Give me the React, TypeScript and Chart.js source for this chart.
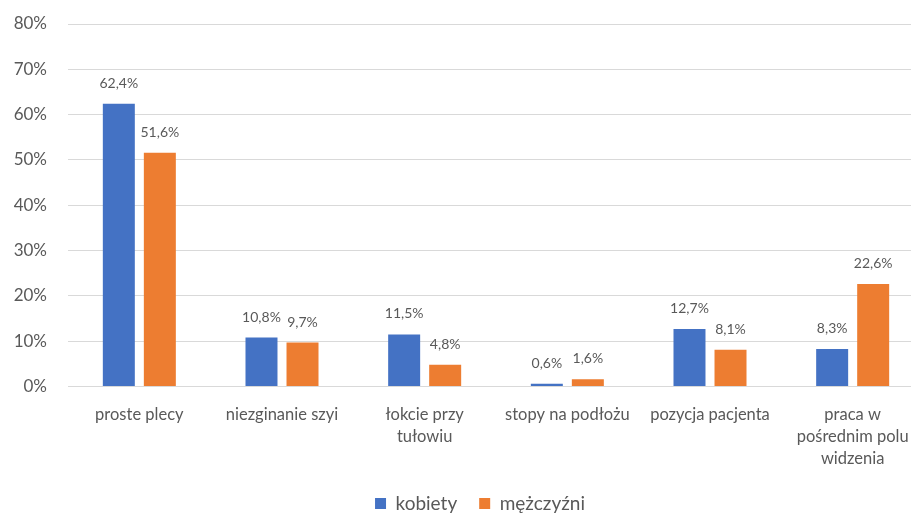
import React, { useEffect, useRef } from "react";
import { Chart, registerables } from "chart.js";

Chart.register(...registerables);

const categories: (string | string[])[] = [
  "proste plecy",
  "niezginanie szyi",
  ["łokcie przy", "tułowiu"],
  "stopy na podłożu",
  "pozycja pacjenta",
  ["praca w", "pośrednim polu", "widzenia"],
];
const kobiety = [62.4, 10.8, 11.5, 0.6, 12.7, 8.3];
const mezczyzni = [51.6, 9.7, 4.8, 1.6, 8.1, 22.6];
const seriesNames = ["kobiety", "mężczyźni"];
const yTicksMax = 80;
const yTickStep = 10;

const FONT = "Lato, 'Open Sans', sans-serif";
const TEXT = "#595959";

const dataLabels = {
  id: "dataLabels",
  afterDatasetsDraw(chart: any) {
    const ctx = chart.ctx;
    ctx.save();
    ctx.font = `14px ${FONT}`;
    ctx.fillStyle = TEXT;
    ctx.textAlign = "center";
    ctx.textBaseline = "alphabetic";
    chart.data.datasets.forEach((ds: any, i: number) => {
      const meta = chart.getDatasetMeta(i);
      meta.data.forEach((el: any, j: number) => {
        const v = ds.data[j] as number;
        const txt = v.toFixed(1).replace(".", ",") + "%";
        ctx.fillText(txt, el.x, el.y - 16);
      });
    });
    ctx.restore();
  },
};

export default function App() {
  const ref = useRef<HTMLCanvasElement | null>(null);
  useEffect(() => {
    if (!ref.current) return;
    const chart = new Chart(ref.current, {
      type: "bar",
      data: {
        labels: categories,
        datasets: [
          {
            label: seriesNames[0],
            data: kobiety,
            backgroundColor: "#4472C4",
            categoryPercentage: 0.575,
            barPercentage: 0.78,
          },
          {
            label: seriesNames[1],
            data: mezczyzni,
            backgroundColor: "#ED7D31",
            categoryPercentage: 0.575,
            barPercentage: 0.78,
          },
        ],
      },
      options: {
        responsive: false,
        animation: false,
        layout: { padding: { top: 24, left: 0, right: 0, bottom: 0 } },
        plugins: {
          tooltip: { enabled: false },
          legend: {
            position: "bottom",
            labels: {
              font: { family: FONT, size: 19 },
              color: TEXT,
              boxWidth: 11,
              boxHeight: 11,
              padding: 22,
            },
          },
        },
        scales: {
          x: {
            grid: { display: false },
            border: { display: true, color: "#d9d9d9" },
            ticks: {
              color: TEXT,
              font: { family: FONT, size: 16.5, lineHeight: 1.33 },
              padding: 9,
              maxRotation: 0,
              autoSkip: false,
            },
            afterFit(s: any) {
              s.height = 85.5;
            },
          },
          y: {
            min: 0,
            max: yTicksMax,
            grid: { color: "#d9d9d9", drawTicks: true, tickLength: 21, tickColor: "rgba(0,0,0,0)" },
            border: { display: false },
            ticks: {
              stepSize: yTickStep,
              color: TEXT,
              font: { family: FONT, size: 17 },
              padding: 0,
              callback: (v: any) => `${v}%`,
            },
            afterFit(s: any) {
              s.width = 68;
            },
          },
          y2: {
            position: "right",
            display: true,
            grid: { display: false, drawTicks: false },
            border: { display: false },
            ticks: { display: false },
            afterFit(s: any) {
              s.width = 36;
            },
          },
        },
      },
      plugins: [dataLabels],
    } as any);
    return () => chart.destroy();
  }, []);
  return (
    <div
      style={{
        position: "fixed",
        left: 0,
        top: 0,
        width: 911,
        height: 514,
        overflow: "hidden",
        background: "#fff",
      }}
    >
      <canvas ref={ref} width={960} height={523} style={{ width: 960, height: 523 }} />
    </div>
  );
}
